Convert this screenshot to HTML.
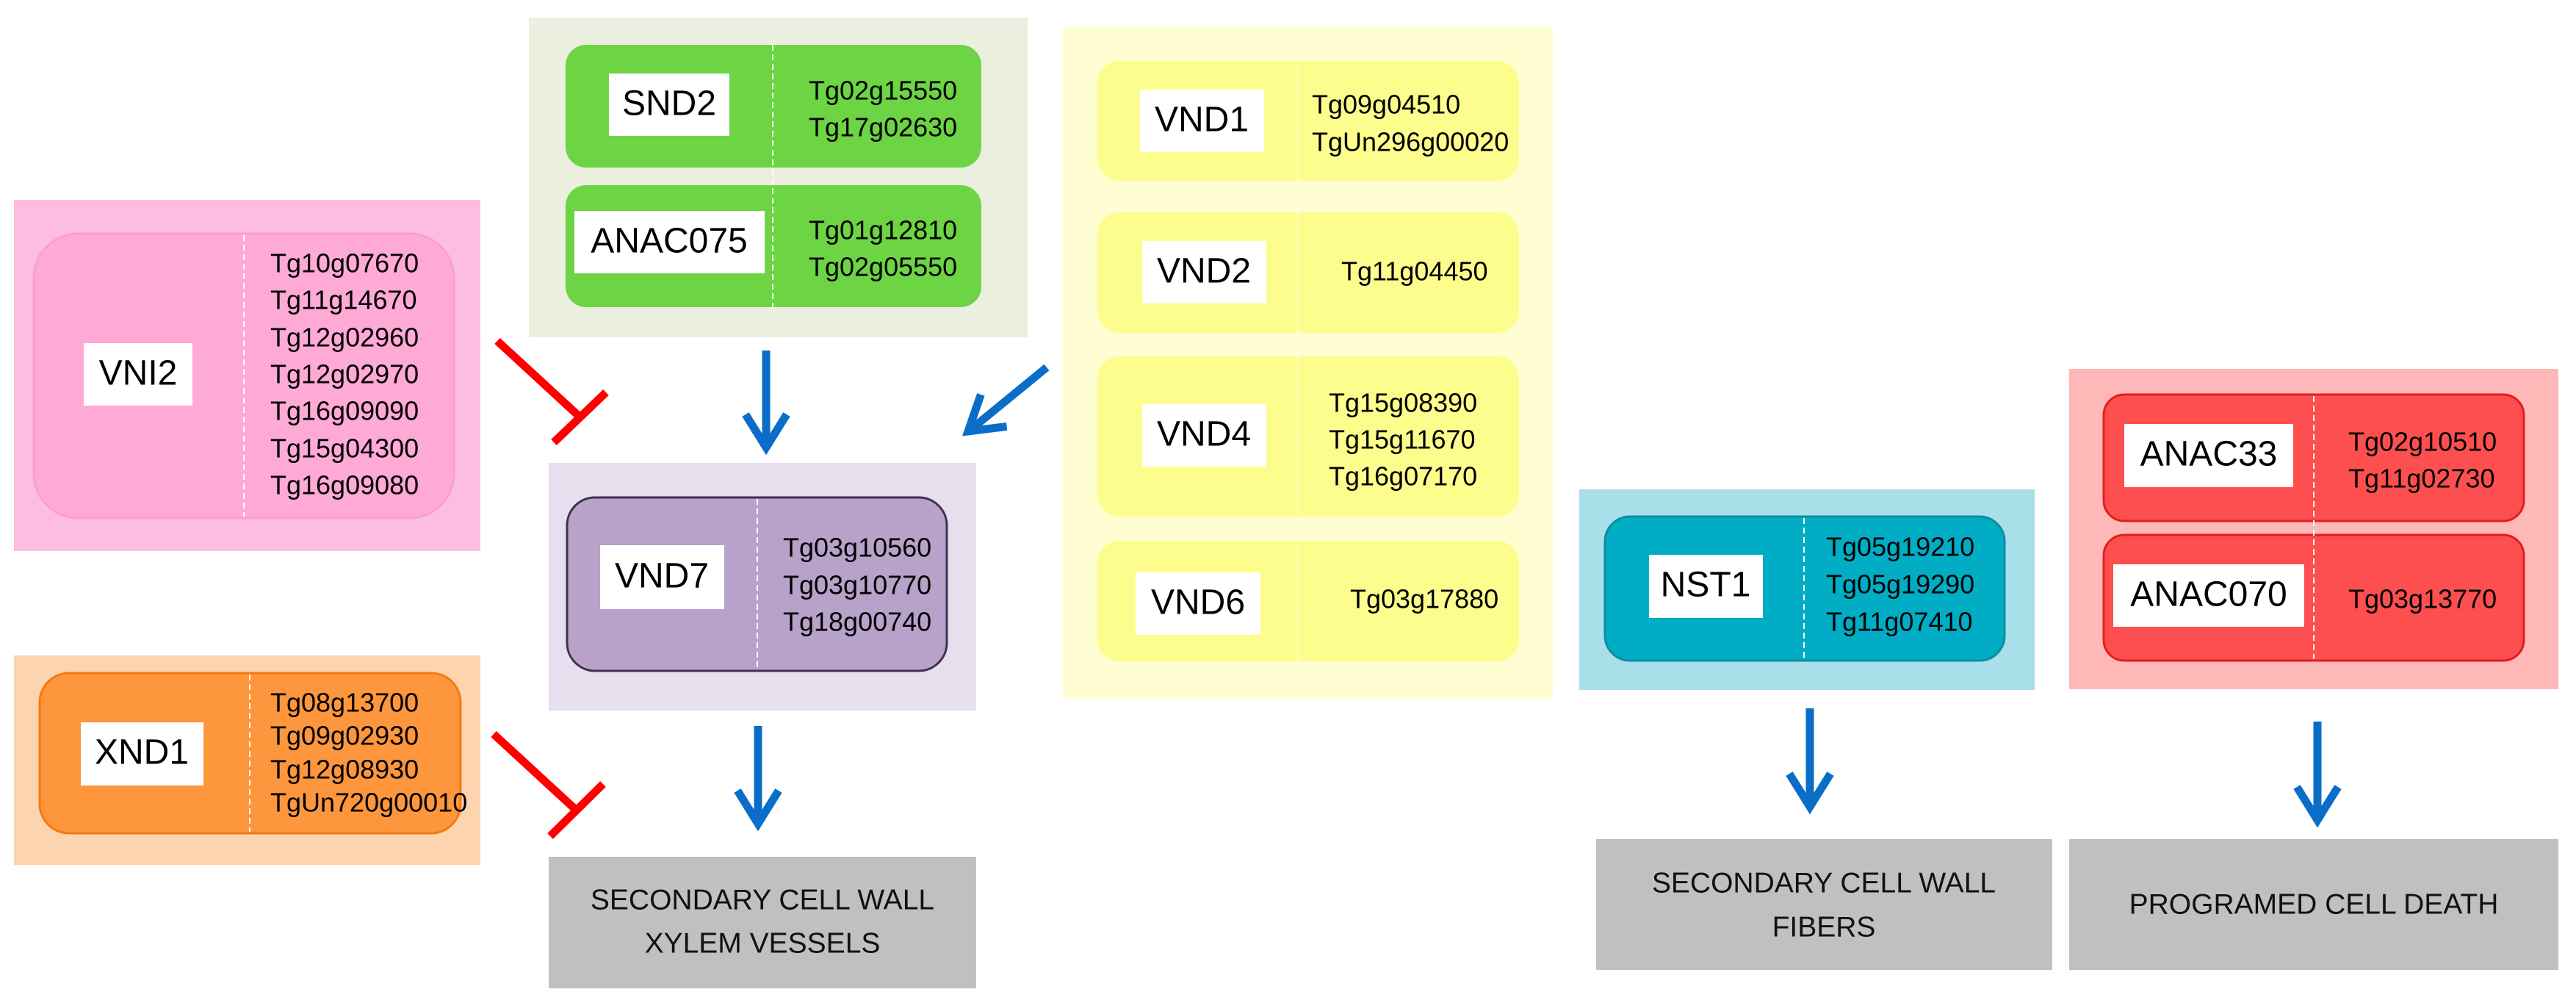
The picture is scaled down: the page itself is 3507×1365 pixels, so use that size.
<!DOCTYPE html>
<html><head><meta charset="utf-8"><style>
html,body{margin:0;padding:0;background:#fff;}
svg{display:block;}
text{font-family:"Liberation Sans",sans-serif;}
.g{font-size:36px;fill:#000;dominant-baseline:middle;}
.l{font-size:48px;fill:#000;dominant-baseline:middle;text-anchor:middle;}
.b{font-size:39px;fill:#111;dominant-baseline:middle;text-anchor:middle;}
.d{stroke:#fff;stroke-width:2;stroke-dasharray:8 5;}
</style></head><body>
<svg width="3507" height="1365" viewBox="0 0 3507 1365" xmlns="http://www.w3.org/2000/svg">
<defs>
<g id="ah"><path d="M-28,-45 L0,0 L28,-45" fill="none" stroke="#0a6ec8" stroke-width="11" stroke-linejoin="miter"/></g>
</defs>

<!-- VNI2 -->
<rect x="19" y="272" width="635" height="478" fill="#fdbde0"/>
<rect x="46" y="318" width="572" height="387" rx="60" fill="#fea9d6" stroke="#fc9fce" stroke-width="3"/>
<line x1="332" y1="320" x2="332" y2="703" class="d"/>
<rect x="114" y="467" width="148" height="85" fill="#fff"/>
<text x="188" y="511" class="l">VNI2</text>
<text x="368" y="361" class="g">Tg10g07670</text>
<text x="368" y="411" class="g">Tg11g14670</text>
<text x="368" y="462" class="g">Tg12g02960</text>
<text x="368" y="512" class="g">Tg12g02970</text>
<text x="368" y="562" class="g">Tg16g09090</text>
<text x="368" y="613" class="g">Tg15g04300</text>
<text x="368" y="663" class="g">Tg16g09080</text>

<!-- XND1 -->
<rect x="19" y="892" width="635" height="285" fill="#fdd4b0"/>
<rect x="54" y="916" width="573" height="218" rx="40" fill="#fd963c" stroke="#f57a10" stroke-width="3"/>
<line x1="340" y1="918" x2="340" y2="1132" class="d"/>
<rect x="110" y="983" width="167" height="86" fill="#fff"/>
<text x="193" y="1027" class="l">XND1</text>
<text x="368" y="959" class="g">Tg08g13700</text>
<text x="368" y="1004" class="g">Tg09g02930</text>
<text x="368" y="1050" class="g">Tg12g08930</text>
<text x="368" y="1095" class="g">TgUn720g00010</text>

<!-- Green -->
<rect x="720" y="24" width="679" height="435" fill="#ebefdf"/>
<rect x="770" y="61" width="566" height="167" rx="28" fill="#6dd444"/>
<rect x="770" y="252" width="566" height="166" rx="28" fill="#6dd444"/>
<line x1="1052" y1="61" x2="1052" y2="418" class="d"/>
<rect x="829" y="100" width="164" height="85" fill="#fff"/>
<text x="911" y="144" class="l">SND2</text>
<rect x="782" y="287" width="259" height="85" fill="#fff"/>
<text x="911" y="331" class="l">ANAC075</text>
<text x="1101" y="126" class="g">Tg02g15550</text>
<text x="1101" y="176" class="g">Tg17g02630</text>
<text x="1101" y="316" class="g">Tg01g12810</text>
<text x="1101" y="366" class="g">Tg02g05550</text>

<!-- VND7 -->
<rect x="747" y="630" width="582" height="337" fill="#e7dfed"/>
<rect x="772" y="677" width="517" height="236" rx="38" fill="#b8a2c9" stroke="#3f3150" stroke-width="3"/>
<line x1="1031" y1="679" x2="1031" y2="911" class="d"/>
<rect x="817" y="742" width="169" height="87" fill="#fff"/>
<text x="901" y="787" class="l">VND7</text>
<text x="1066" y="748" class="g">Tg03g10560</text>
<text x="1066" y="799" class="g">Tg03g10770</text>
<text x="1066" y="849" class="g">Tg18g00740</text>

<!-- Gray 1 -->
<rect x="747" y="1166" width="582" height="179" fill="#c0c0c0"/>
<text x="1038" y="1227" class="b">SECONDARY CELL WALL</text>
<text x="1038" y="1286" class="b">XYLEM VESSELS</text>

<!-- Yellow -->
<rect x="1447" y="37" width="667" height="914" fill="#fefed2"/>
<rect x="1494" y="83" width="574" height="163" rx="30" fill="#fdfd8d"/>
<rect x="1494" y="289" width="574" height="164" rx="30" fill="#fdfd8d"/>
<rect x="1494" y="485" width="574" height="218" rx="30" fill="#fdfd8d"/>
<rect x="1494" y="736" width="574" height="164" rx="30" fill="#fdfd8d"/>
<g stroke="#fefed2" stroke-width="2" stroke-dasharray="8 5">
<line x1="1767" y1="83" x2="1767" y2="246"/><line x1="1767" y1="289" x2="1767" y2="453"/>
<line x1="1767" y1="485" x2="1767" y2="703"/><line x1="1767" y1="736" x2="1767" y2="900"/></g>
<rect x="1552" y="122" width="169" height="85" fill="#fff"/><text x="1636" y="166" class="l">VND1</text>
<rect x="1555" y="328" width="169" height="85" fill="#fff"/><text x="1639" y="372" class="l">VND2</text>
<rect x="1555" y="550" width="169" height="85" fill="#fff"/><text x="1639" y="594" class="l">VND4</text>
<rect x="1546" y="779" width="170" height="85" fill="#fff"/><text x="1631" y="823" class="l">VND6</text>
<text x="1786" y="145" class="g">Tg09g04510</text>
<text x="1786" y="196" class="g">TgUn296g00020</text>
<text x="1826" y="372" class="g">Tg11g04450</text>
<text x="1809" y="551" class="g">Tg15g08390</text>
<text x="1809" y="601" class="g">Tg15g11670</text>
<text x="1809" y="651" class="g">Tg16g07170</text>
<text x="1838" y="818" class="g">Tg03g17880</text>

<!-- NST1 -->
<rect x="2150" y="666" width="620" height="273" fill="#a8dfe9"/>
<rect x="2185" y="703" width="544" height="196" rx="34" fill="#00adc5" stroke="#0c8ea3" stroke-width="3"/>
<line x1="2456" y1="705" x2="2456" y2="897" class="d"/>
<rect x="2245" y="755" width="155" height="86" fill="#fff"/>
<text x="2322" y="799" class="l">NST1</text>
<text x="2486" y="747" class="g">Tg05g19210</text>
<text x="2486" y="798" class="g">Tg05g19290</text>
<text x="2486" y="849" class="g">Tg11g07410</text>

<!-- Red -->
<rect x="2817" y="502" width="666" height="436" fill="#feb8b8"/>
<rect x="2864" y="537" width="572" height="172" rx="28" fill="#fd4f4f" stroke="#e41e1e" stroke-width="3"/>
<rect x="2864" y="728" width="572" height="171" rx="28" fill="#fd4f4f" stroke="#e41e1e" stroke-width="3"/>
<line x1="3150" y1="539" x2="3150" y2="897" class="d"/>
<rect x="2892" y="577" width="230" height="86" fill="#fff"/><text x="3007" y="621" class="l">ANAC33</text>
<rect x="2877" y="768" width="260" height="85" fill="#fff"/><text x="3007" y="812" class="l">ANAC070</text>
<text x="3197" y="604" class="g">Tg02g10510</text>
<text x="3197" y="654" class="g">Tg11g02730</text>
<text x="3197" y="818" class="g">Tg03g13770</text>

<!-- Gray 2,3 -->
<rect x="2173" y="1142" width="621" height="178" fill="#c0c0c0"/>
<text x="2483" y="1204" class="b">SECONDARY CELL WALL</text>
<text x="2483" y="1264" class="b">FIBERS</text>
<rect x="2817" y="1142" width="666" height="178" fill="#c0c0c0"/>
<text x="3150" y="1233" class="b">PROGRAMED CELL DEATH</text>

<!-- Inhibition -->
<g stroke="#ff0000" stroke-width="11" fill="none">
<line x1="677" y1="464" x2="790" y2="568"/><line x1="754" y1="602" x2="825" y2="534"/>
<line x1="672" y1="999" x2="785" y2="1103"/><line x1="749" y1="1138" x2="821" y2="1067"/>
</g>

<!-- Blue arrows -->
<g stroke="#0a6ec8" stroke-width="11" fill="none">
<line x1="1043" y1="477" x2="1043" y2="606"/>
<line x1="1032" y1="988" x2="1032" y2="1118"/>
<line x1="2464" y1="964" x2="2464" y2="1095"/>
<line x1="3155" y1="982" x2="3155" y2="1113"/>
<line x1="1425" y1="500" x2="1321" y2="585"/>
</g>
<use href="#ah" transform="translate(1043,609)"/>
<use href="#ah" transform="translate(1032,1121)"/>
<use href="#ah" transform="translate(2464,1098)"/>
<use href="#ah" transform="translate(3155,1116)"/>
<use href="#ah" transform="translate(1318,587) rotate(51)"/>
</svg>
</body></html>
